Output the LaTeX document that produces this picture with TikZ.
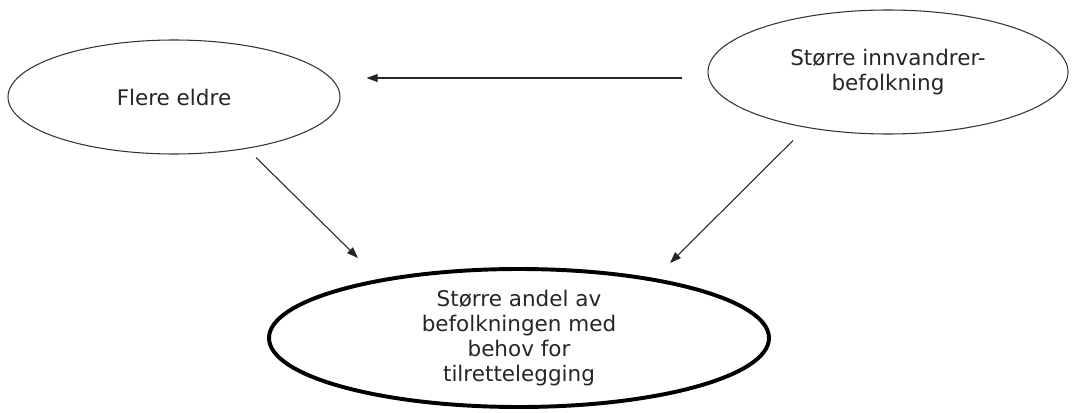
\documentclass[tikz,border=0pt]{standalone}
\usepackage{fontspec}
\setmainfont{DejaVu Sans}
\usetikzlibrary{shapes.geometric,arrows.meta}
\begin{document}
\begin{tikzpicture}[
        cloud/.style={ellipse, draw=black!80, line width=0.75pt, inner sep=0pt, align=center,
            font=\fontsize{15.3pt}{17.6pt}\selectfont, text=black!85},
        arr/.style={black!85, line width=0.75pt, -{Triangle[length=0.28cm,width=0.2cm]}}]
        \useasboundingbox (0,0) rectangle (26.8,10.3);
        \node[cloud, minimum width=8.3cm, minimum height=2.85cm] (eldre) at (4.35,7.875) {Flere eldre};
        \node[cloud, minimum width=9cm, minimum height=3.1cm] (inn) at (22.2,8.5) {Større innvandrer-\\befolkning};
        \node[cloud, line width=2.8pt, draw=black, minimum width=12.5cm, minimum height=3.45cm] (andel) at (12.975,1.85)
            {Større andel av\\befolkningen med\\behov for\\tilrettelegging};
        \draw[arr] ([xshift=-0.625cm,yshift=-0.15cm]inn.west) -- ([xshift=0.65cm,yshift=0.475cm]eldre.east);
        \draw[arr] ([xshift=2.05cm,yshift=-0.075cm]eldre.south) -- ([xshift=-4.025cm,yshift=0.225cm]andel.north);
        \draw[arr] ([xshift=-2.375cm,yshift=-0.15cm]inn.south) -- ([xshift=3.775cm,yshift=0.1cm]andel.north);
    \end{tikzpicture}
\end{document}
